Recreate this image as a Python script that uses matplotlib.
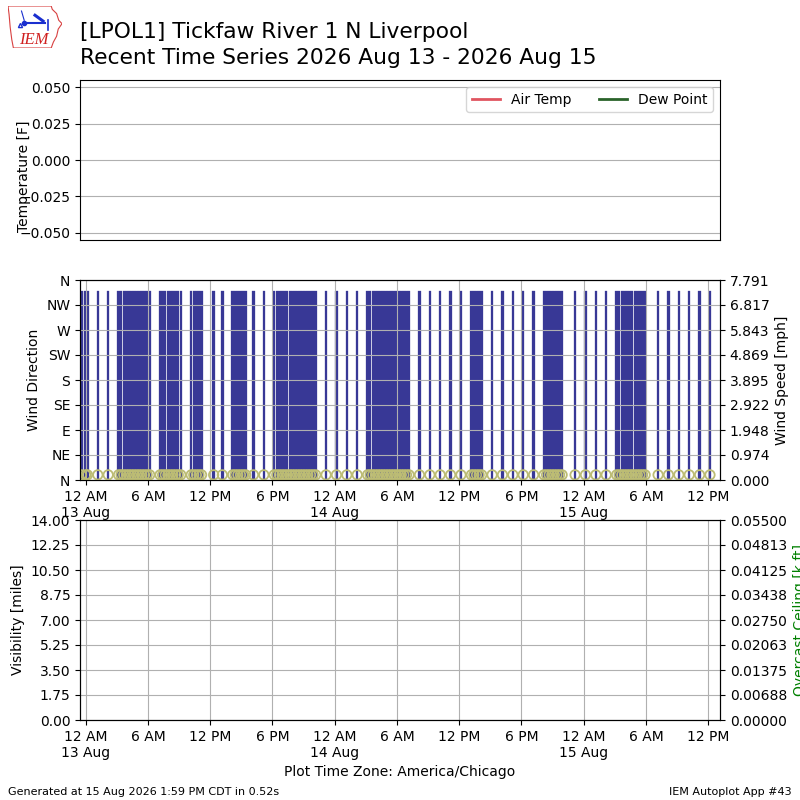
import numpy as np
import pandas as pd
import matplotlib
matplotlib.use("Agg")
import matplotlib.pyplot as plt
import matplotlib.dates as mdates
from matplotlib.ticker import FixedLocator, FixedFormatter, FuncFormatter
from matplotlib.patches import Polygon

# ---------------- data ----------------
title_line1 = "[LPOL1] Tickfaw River 1 N Liverpool"
title_line2 = "Recent Time Series 2026 Aug 13 - 2026 Aug 15"

# hourly (isolated) observations, local time
hourly_obs = [
    "2026-08-12 23:35", "2026-08-13 00:00", "2026-08-13 00:10",
    "2026-08-13 01:10", "2026-08-13 02:10", "2026-08-13 12:20",
    "2026-08-13 13:10", "2026-08-13 16:10", "2026-08-13 17:10",
    "2026-08-13 23:10", "2026-08-14 00:10", "2026-08-14 01:10",
    "2026-08-14 02:10", "2026-08-14 08:10", "2026-08-14 09:10",
    "2026-08-14 10:10", "2026-08-14 11:10", "2026-08-14 12:10",
    "2026-08-14 15:10", "2026-08-14 16:10", "2026-08-14 17:10",
    "2026-08-14 18:10", "2026-08-14 19:10", "2026-08-14 23:10",
    "2026-08-15 00:10", "2026-08-15 01:10", "2026-08-15 02:10",
    "2026-08-15 07:10", "2026-08-15 08:10", "2026-08-15 09:10",
    "2026-08-15 10:10", "2026-08-15 11:10", "2026-08-15 12:10",
]
# periods of 15-minute reporting (first ob, last ob)
dense_periods = [
    ("2026-08-13 03:10", "2026-08-13 06:10"),
    ("2026-08-13 07:10", "2026-08-13 09:10"),
    ("2026-08-13 10:10", "2026-08-13 11:10"),
    ("2026-08-13 14:10", "2026-08-13 15:25"),
    ("2026-08-13 18:10", "2026-08-13 22:10"),
    ("2026-08-14 03:10", "2026-08-14 07:10"),
    ("2026-08-14 13:10", "2026-08-14 14:10"),
    ("2026-08-14 20:10", "2026-08-14 21:55"),
    ("2026-08-15 03:10", "2026-08-15 05:55"),
]
ob_direction_deg = 340.0     # reported wind direction for every ob
ob_speed_mph = 0.2           # reported wind speed for every ob

dir_ticks = [0, 45, 90, 135, 180, 225, 270, 315, 360]
dir_labels = ["N", "NE", "E", "SE", "S", "SW", "W", "NW", "N"]
speed_max = 7.7908
vis_ticks = [0.0, 1.75, 3.5, 5.25, 7.0, 8.75, 10.5, 12.25, 14.0]
ceil_ticks = [0.0, 0.006875, 0.01375, 0.020625, 0.0275, 0.034375, 0.04125, 0.048125, 0.055]
ceil_labels = ["0.00000", "0.00688", "0.01375", "0.02063", "0.02750",
               "0.03438", "0.04125", "0.04813", "0.05500"]
x_start = "2026-08-12 23:27"
x_end = "2026-08-15 13:08"

# ---------------- build obs table ----------------
times = list(pd.to_datetime(hourly_obs))
for a, b in dense_periods:
    times += list(pd.date_range(a, b, freq="15min"))
times = pd.DatetimeIndex(sorted(times))
drct = np.full(len(times), ob_direction_deg)
sped = np.full(len(times), ob_speed_mph)
tnum = mdates.date2num(times.to_pydatetime())
xlim = (mdates.date2num(pd.Timestamp(x_start)), mdates.date2num(pd.Timestamp(x_end)))


def time_fmt(x, pos=None):
    d = mdates.num2date(x)
    lab = d.strftime("%I %p").lstrip("0")
    if d.hour == 0:
        lab += "\n" + d.strftime("%d %b")
    return lab


def setup_time_axis(ax):
    ax.set_xlim(*xlim)
    ax.xaxis.set_major_locator(mdates.HourLocator(byhour=[0, 6, 12, 18]))
    ax.xaxis.set_major_formatter(FuncFormatter(time_fmt))


fig = plt.figure(figsize=(8, 8), dpi=100)

# ---------------- titles ----------------
fig.text(0.1, 1 - 38 / 800, title_line1, fontsize=15.7, va="baseline")
fig.text(0.1, 1 - 64 / 800, title_line2, fontsize=15.7, va="baseline")

# ---------------- logo ----------------
lax = fig.add_axes([0.01, 0.94, 0.0675, 0.0525])
lax.set_xlim(0, 1)
lax.set_ylim(0, 1)
lax.axis("off")
iowa = [(0.0, 1.0), (0.8, 1.0), (0.82, 0.92), (0.9, 0.82), (0.94, 0.66), (1.0, 0.58),
        (0.93, 0.45), (0.9, 0.28), (0.84, 0.14), (0.8, 0.0), (0.1, 0.0),
        (0.07, 0.2), (0.04, 0.5), (0.02, 0.8)]
lax.add_patch(Polygon(iowa, closed=True, fill=False, ec="#d84040", lw=0.8))
lax.plot([0.3, 0.68], [0.6, 0.6], color="#1a2fcf", lw=1.5)
lax.plot([0.3], [0.6], "o", color="#1a2fcf", ms=3)
lax.plot([0.25, 0.3], [0.88, 0.66], color="#1a2fcf", lw=0.8)
lax.plot([0.5, 0.65], [0.78, 0.64], color="#1a2fcf", lw=2.2)
lax.plot([0.74, 0.74], [0.42, 0.66], color="#1a2fcf", lw=1.2)
lax.plot([0.22], [0.55], "^", color="#1a2fcf", ms=3, mfc="none")
lax.text(0.48, 0.2, "IEM", color="#d02020", fontsize=12, ha="center", va="center",
         family="Liberation Serif", style="italic")

# ---------------- temperature panel ----------------
ax0 = fig.add_axes([0.1, 0.7, 0.8, 0.2])
ax0.plot([], [], color="#e05560", lw=2, label="Air Temp")
ax0.plot([], [], color="#2a632a", lw=2, label="Dew Point")
ax0.set_ylim(-0.055, 0.055)
ax0.set_xticks([])
ax0.grid(True)
ax0.set_ylabel("Temperature [F]")
ax0.yaxis.set_label_coords(-0.077, 0.4)
ax0.legend(loc="upper right", ncol=2)

# ---------------- wind panel ----------------
ax1 = fig.add_axes([0.1, 0.4, 0.8, 0.25])
ax1.bar(tnum, drct, width=0.01, color="#383896", ec="#383896", lw=0.2)
ax1.set_ylim(0, 360)
ax1.yaxis.set_major_locator(FixedLocator(dir_ticks))
ax1.yaxis.set_major_formatter(FixedFormatter(dir_labels))
ax1.set_ylabel("Wind Direction")
setup_time_axis(ax1)
ax1.grid(True)
ax1b = ax1.twinx()
ax1b.scatter(tnum, sped, s=46, facecolor="none", edgecolor="#bcbc74", lw=1.3)
ax1b.set_ylim(0, speed_max)
ax1b.set_yticks(np.linspace(0, speed_max, 9))
ax1b.yaxis.set_major_formatter(FuncFormatter(lambda v, p: "%.3f" % v))
ax1b.set_ylabel("Wind Speed [mph]")
setup_time_axis(ax1b)

# ---------------- visibility panel ----------------
ax2 = fig.add_axes([0.1, 0.1, 0.8, 0.25])
ax2.set_ylim(0, 14)
ax2.yaxis.set_major_locator(FixedLocator(vis_ticks))
ax2.yaxis.set_major_formatter(FuncFormatter(lambda v, p: "%.2f" % v))
ax2.set_ylabel("Visibility [miles]")
setup_time_axis(ax2)
ax2.grid(True)
ax2.set_xlabel("Plot Time Zone: America/Chicago")
ax2b = ax2.twinx()
ax2b.set_ylim(0, 0.055)
ax2b.yaxis.set_major_locator(FixedLocator(ceil_ticks))
ax2b.yaxis.set_major_formatter(FixedFormatter(ceil_labels))
ax2b.set_ylabel("Overcast Ceiling [k ft]", color="green")

# ---------------- footer ----------------
fig.text(0.01, 0.006, "Generated at 15 Aug 2026 1:59 PM CDT in 0.52s", fontsize=8)
fig.text(0.99, 0.006, "IEM Autoplot App #43", fontsize=8, ha="right")

fig.savefig("out.png", dpi=100)
